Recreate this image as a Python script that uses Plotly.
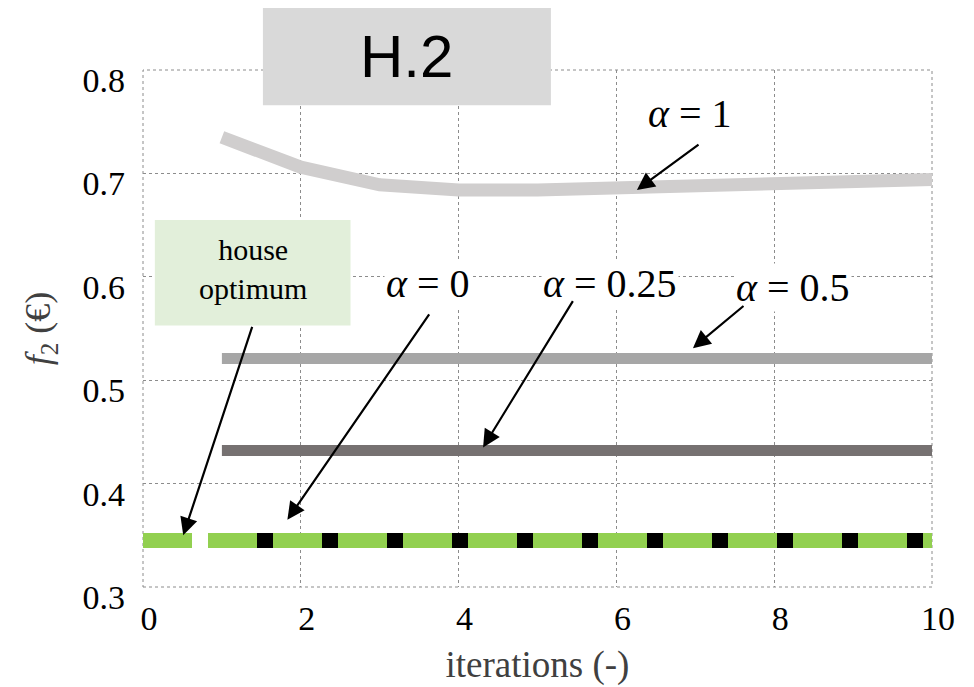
import plotly.graph_objects as go

iterations = [1, 2, 3, 4, 5, 6, 7, 8, 9, 10]
f2_alpha_1 = [0.735, 0.706, 0.689, 0.684, 0.684, 0.686, 0.688, 0.690, 0.693, 0.694]
f2_alpha_05 = [0.521] * 10
f2_alpha_025 = [0.432] * 10
f2_alpha_0 = [0.345] * 10
house_iter = [0, 1, 2, 3, 4, 5, 6, 7, 8, 9, 10]
house_opt = [0.345] * 11

SERIF = "Liberation Serif"

fig = go.Figure()
fig.add_trace(go.Scatter(x=iterations, y=f2_alpha_1, mode="lines",
                         line=dict(color="#d0cece", width=13)))
fig.add_trace(go.Scatter(x=iterations, y=f2_alpha_05, mode="lines",
                         line=dict(color="#a6a6a6", width=11)))
fig.add_trace(go.Scatter(x=iterations, y=f2_alpha_025, mode="lines",
                         line=dict(color="#767171", width=11)))
fig.add_trace(go.Scatter(x=iterations, y=f2_alpha_0, mode="lines",
                         line=dict(color="black", width=15)))
fig.add_trace(go.Scatter(x=house_iter, y=house_opt, mode="lines",
                         line=dict(color="#92d050", width=15, dash="49px,16px")))

# frame + boxes
fig.add_shape(type="rect", xref="paper", yref="paper", x0=0, x1=1, y0=0, y1=1,
              line=dict(color="#8c8c8c", width=1, dash="dot"), layer="below")
fig.add_shape(type="rect", xref="paper", yref="paper", x0=0.152, x1=0.517, y0=0.932, y1=1.12,
              fillcolor="#d9d9d9", line=dict(width=0), layer="above")
fig.add_shape(type="rect", x0=0.15, x1=2.63, y0=0.553, y1=0.655,
              fillcolor="#e2efda", line=dict(width=0), layer="above")

fig.add_annotation(xref="paper", yref="paper", x=0.334, y=1.026, xanchor="center", yanchor="middle",
                   text="H.2", showarrow=False,
                   font=dict(family="Liberation Sans", size=60, color="black"))
fig.add_annotation(x=1.39, y=0.608, text="house<br>optimum", showarrow=False,
                   xanchor="center", yanchor="middle",
                   font=dict(family=SERIF, size=30, color="black"))

labels = [
    ("<i>α</i> = 1", 6.93, 0.758, 7.06, 0.729, 6.26, 0.684),
    ("<i>α</i> = 0", 3.61, 0.594, 3.64, 0.565, 1.83, 0.365),
    ("<i>α</i> = 0.25", 5.92, 0.594, 5.46, 0.578, 4.31, 0.435),
    ("<i>α</i> = 0.5", 8.24, 0.590, 7.63, 0.573, 6.97, 0.531),
]
for txt, tx, ty, ax, ay, hx, hy in labels:
    fig.add_annotation(x=tx, y=ty, text=txt, showarrow=False, bgcolor="white",
                       xanchor="center", yanchor="middle",
                       font=dict(family=SERIF, size=40, color="black"))
    fig.add_annotation(x=hx, y=hy, ax=ax, ay=ay, axref="x", ayref="y", text="",
                       showarrow=True, arrowhead=2, arrowsize=1.6, arrowwidth=2.2,
                       arrowcolor="black")
# house optimum arrow
fig.add_annotation(x=0.51, y=0.350, ax=1.39, ay=0.553, axref="x", ayref="y", text="",
                   showarrow=True, arrowhead=2, arrowsize=1.6, arrowwidth=2.2,
                   arrowcolor="black")

# page body adds 8px offset, so margins are shifted to keep the plot box in place
fig.update_layout(
    width=974, height=687,
    margin=dict(l=135, r=50, t=62, b=108),
    paper_bgcolor="white", plot_bgcolor="white",
    showlegend=False,
    font=dict(family=SERIF, size=34, color="black"),
)
fig.update_xaxes(range=[0, 10], tickvals=[0, 2, 4, 6, 8, 10], showgrid=True,
                 gridcolor="#8c8c8c", griddash="dot", gridwidth=1, zeroline=False,
                 ticks="", tickfont=dict(family=SERIF, size=34), automargin=False,
                 ticklabelstandoff=8, ticklabelshift=6,
                 title=dict(text="iterations (-)", standoff=15,
                            font=dict(family=SERIF, size=37, color="#404040")))
fig.update_yaxes(range=[0.3, 0.8], tickvals=[0.3, 0.4, 0.5, 0.6, 0.7, 0.8],
                 ticktext=["0.3", "0.4", "0.5", "0.6", "0.7", "0.8"], showgrid=True,
                 gridcolor="#8c8c8c", griddash="dot", gridwidth=1, zeroline=False,
                 ticks="", tickfont=dict(family=SERIF, size=34), automargin=False,
                 ticklabelstandoff=17, ticklabelshift=10,
                 title=dict(text="<i>f</i><sub>2</sub> (€)", standoff=20,
                            font=dict(family=SERIF, size=36, color="#404040")))

fig.write_html("out.html")
